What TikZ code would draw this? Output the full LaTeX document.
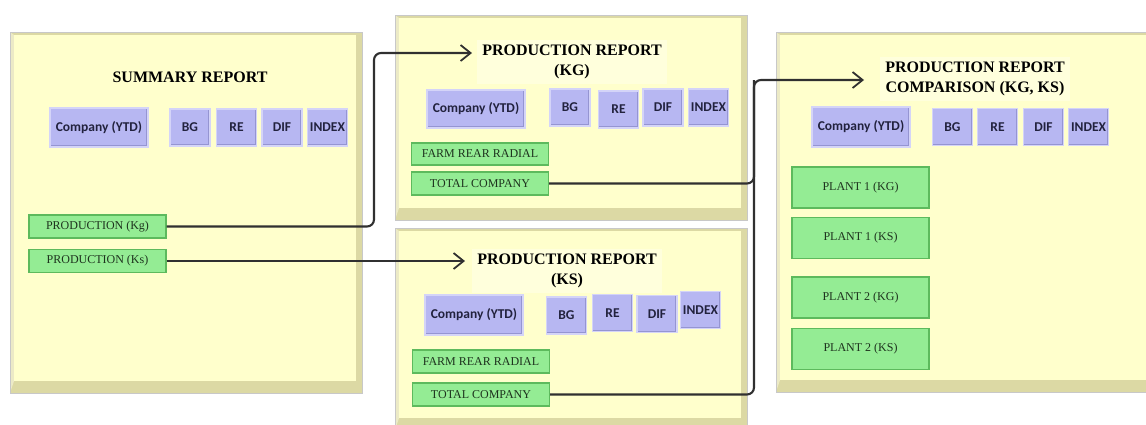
\documentclass[tikz,border=0pt]{standalone}
\usepackage{fontspec}
\setmainfont{Liberation Serif}
\newfontfamily\btnfont{Carlito}
\usetikzlibrary{arrows.meta}
\definecolor{panelfill}{HTML}{FFFFCC}
\definecolor{panelframe}{HTML}{DCD9A4}
\definecolor{panelleft}{HTML}{ECEAC6}
\definecolor{panelborder}{HTML}{C8C8C8}
\definecolor{titlebg}{HTML}{FFFFDC}
\definecolor{lav}{HTML}{B7B7F2}
\definecolor{lavlight}{HTML}{D4D4F8}
\definecolor{lavdark}{HTML}{9595D2}
\definecolor{btntext}{HTML}{22223E}
\definecolor{grn}{HTML}{94EC94}
\definecolor{grndark}{HTML}{5DBA5D}
\definecolor{grntext}{HTML}{1E331E}
\definecolor{conncol}{HTML}{303030}
\newcommand\reportpanel[4]{%
  \fill[panelframe] (#1,#2) rectangle (#3,#4);
  \fill[panelleft] (#1,#2) -- (#1+4,#2+3) -- (#1+4,#4-12) -- (#1,#4) -- cycle;
  \fill[panelfill] (#1+4,#2+3) rectangle (#3-6,#4-12);
  \draw[panelborder, line width=0.8pt] (#1,#2) rectangle (#3,#4);
}
\begin{document}
\begin{tikzpicture}[x=1pt,y=-1pt,
  titlebox/.style={fill=titlebg, align=center, inner sep=5pt,
    font=\bfseries\fontsize{16}{20}\selectfont, text=black},
  btn/.style={fill=lav, draw=lavlight, line width=1.5pt, inner sep=0pt,
    font=\btnfont\bfseries\fontsize{13.5}{15}\selectfont, text=btntext,
    minimum width=40pt, minimum height=37pt,
    path picture={\draw[lavdark, line width=3.5pt]
      (path picture bounding box.north east) --
      (path picture bounding box.south east) --
      (path picture bounding box.south west);}},
  widebtn/.style={btn, minimum width=98pt, minimum height=39pt},
  gbox/.style={fill=grn, draw=grndark, line width=1.3pt, inner sep=0pt,
    font=\fontsize{12}{14}\selectfont, text=grntext,
    minimum width=137pt, minimum height=23pt},
  tallgbox/.style={gbox, minimum height=41pt},
  conn/.style={draw=conncol, line width=2.1pt, rounded corners=7pt},
  arr/.style={conn, -{Straight Barb[length=10pt,width=16pt,line width=1.8pt]}}
]
\useasboundingbox (0,0) rectangle (1146,424);
\fill[white] (0,0) rectangle (1146,424);

% panels
\reportpanel{10}{32}{362}{393}
\reportpanel{395}{15}{747}{220}
\reportpanel{395}{228}{747}{430}
\reportpanel{776}{32}{1160}{392}

% panel 1: summary
\node[font=\bfseries\fontsize{16}{20}\selectfont] (t1) at (190,77) {SUMMARY REPORT};
\node[widebtn] (c1) at (99,127.5) {Company (YTD)};
\node[btn] (bg1) at (190,127.5) {BG};
\node[btn] (re1) at (236.5,127.5) {RE};
\node[btn] (dif1) at (282,127.5) {DIF};
\node[btn] (ix1) at (327.5,127.5) {INDEX};
\node[gbox] (pkg) at (97.5,226.5) {PRODUCTION (Kg)};
\node[gbox] (pks) at (97.5,261) {PRODUCTION (Ks)};

% panel 2: KG
\node[titlebox] (t2) at (572,62) {PRODUCTION REPORT\\(KG)};
\node[widebtn, minimum height=38pt] (c2) at (476,109) {Company (YTD)};
\node[btn] (bg2) at (570,107.5) {BG};
\node[btn] (re2) at (618.5,109.5) {RE};
\node[btn] (dif2) at (663,107.5) {DIF};
\node[btn] (ix2) at (708.5,107.5) {INDEX};
\node[gbox, minimum height=22pt] (fr2) at (480,154) {FARM REAR RADIAL};
\node[gbox] (tc2) at (480,183.5) {TOTAL COMPANY};

% panel 3: KS
\node[titlebox] (t3) at (567,271) {PRODUCTION REPORT\\(KS)};
\node[widebtn, minimum height=40pt] (c3) at (474,315) {Company (YTD)};
\node[btn] (bg3) at (566.5,315.5) {BG};
\node[btn] (re3) at (612.5,313) {RE};
\node[btn] (dif3) at (657,314) {DIF};
\node[btn] (ix3) at (700.5,310) {INDEX};
\node[gbox] (fr3) at (481,361.5) {FARM REAR RADIAL};
\node[gbox] (tc3) at (481,394.5) {TOTAL COMPANY};

% panel 4: comparison
\node[titlebox] (t4) at (975,78.5) {PRODUCTION REPORT\\COMPARISON (KG, KS)};
\node[widebtn, minimum height=40pt] (c4) at (861,127) {Company (YTD)};
\node[btn] (bg4) at (952.5,127) {BG};
\node[btn] (re4) at (997.5,127) {RE};
\node[btn] (dif4) at (1043.5,127) {DIF};
\node[btn] (ix4) at (1088.5,127) {INDEX};
\node[tallgbox] (p1kg) at (860.5,187.5) {PLANT 1 (KG)};
\node[tallgbox] (p1ks) at (860.5,238) {PLANT 1 (KS)};
\node[tallgbox] (p2kg) at (860.5,297.5) {PLANT 2 (KG)};
\node[tallgbox] (p2ks) at (860.5,349) {PLANT 2 (KS)};

% connectors
\coordinate (v1) at (374,53);
\coordinate (a2) at (472,53);
\coordinate (a3) at (465,261);
\coordinate (v4) at (754,80);
\coordinate (a4) at (864,80);
\draw[arr] (pkg.east) -| (v1) -- (a2);
\draw[arr] (pks.east) -- (a3);
\draw[arr] (tc2.east) -| (v4) -- (a4);
\draw[conn] (tc3.east) -| (v4);
\end{tikzpicture}
\end{document}
